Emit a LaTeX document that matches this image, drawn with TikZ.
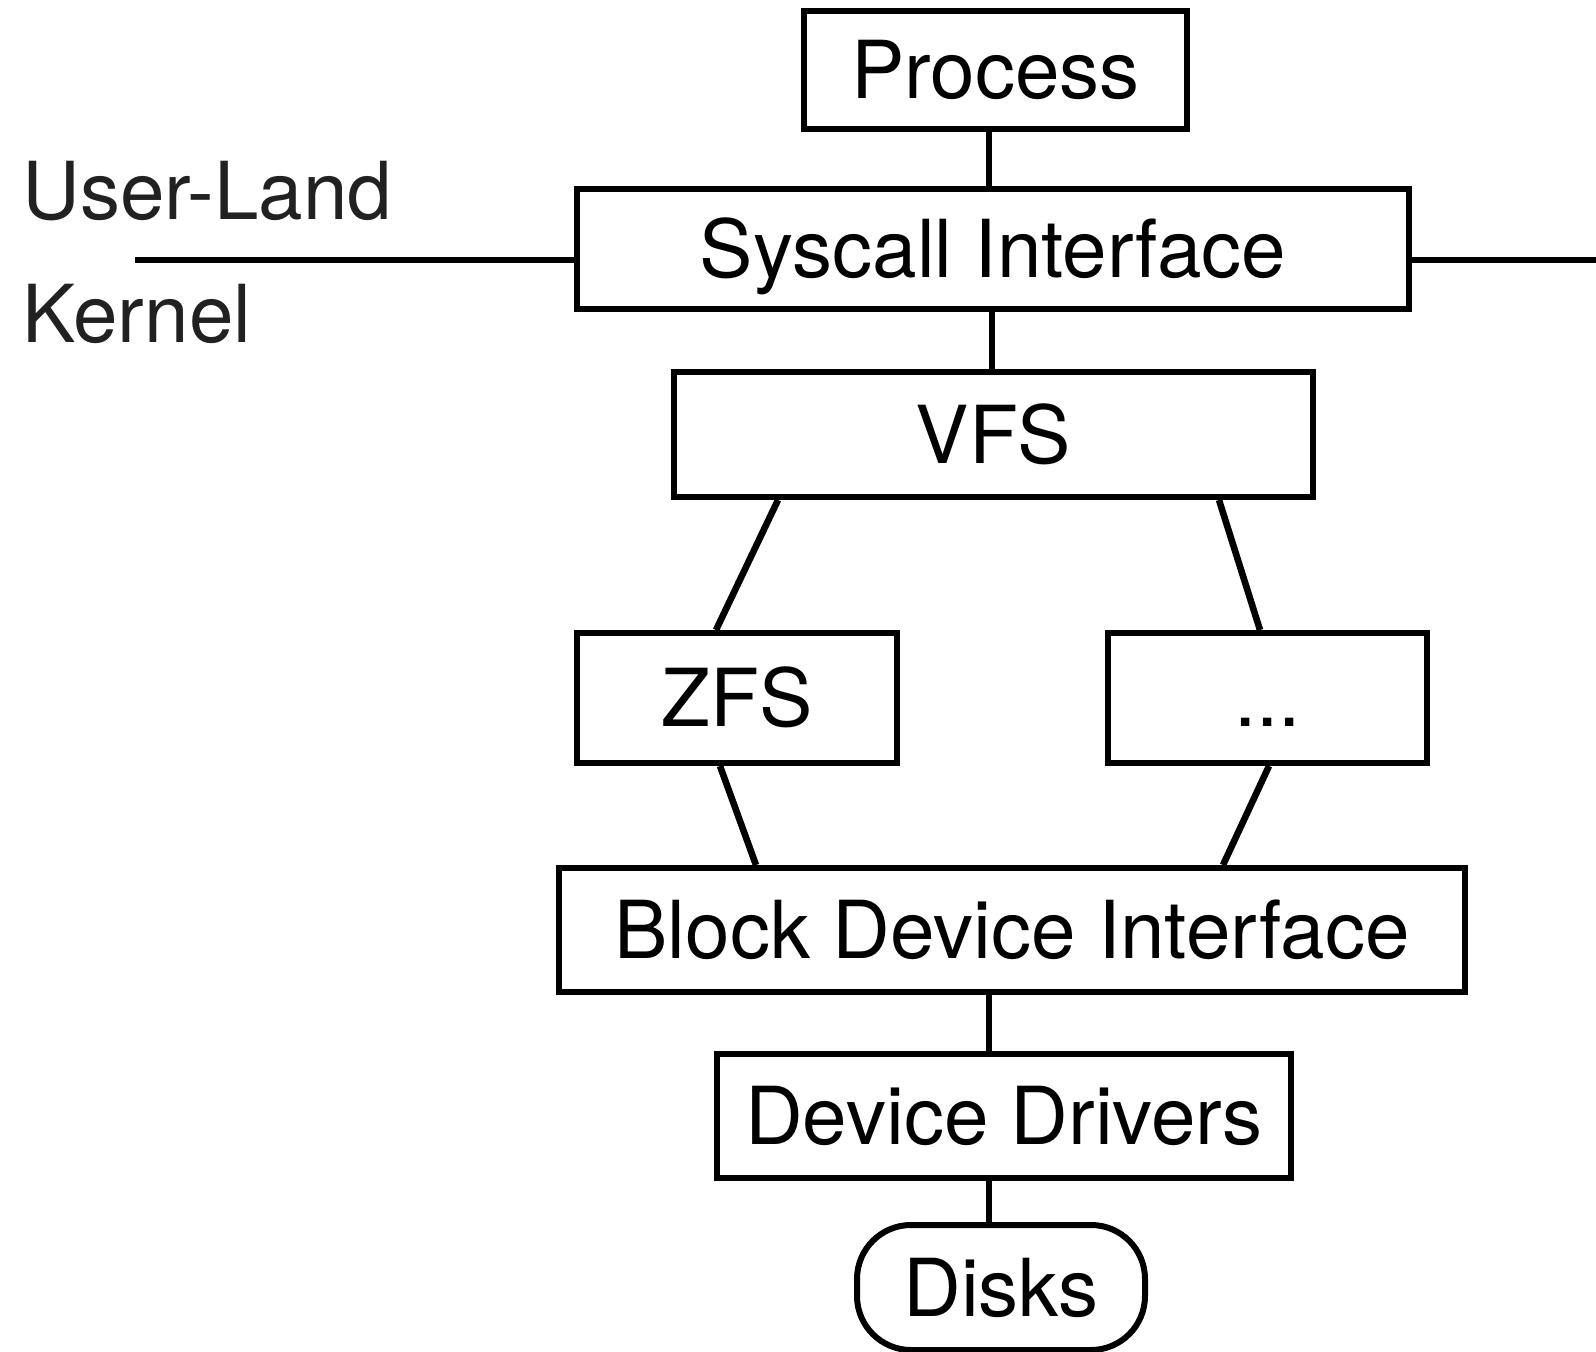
\documentclass[tikz,border=0pt]{standalone}
\usepackage{fontspec}
\setmainfont{TeX Gyre Heros}
\begin{document}
\begin{tikzpicture}[x=0.5pt,y=-0.5pt,
  layer/.style={draw, line width=3pt, inner sep=0pt, font=\fontsize{40}{48}\selectfont,
    text height=28.8pt, text depth=0pt},
  link/.style={line width=3.3pt},
  side/.style={anchor=base west, inner sep=0pt, text=black!87, font=\fontsize{40}{48}\selectfont}]
\useasboundingbox (0,0) rectangle (1596,1352);

% layered stack
\node[layer, minimum width=191.5pt, minimum height=59pt] (proc) at (995.5,70) {Process};
\node[layer, minimum width=416pt, minimum height=60pt] (sys) at (993,249) {Syscall Interface};
\node[layer, minimum width=319.5pt, minimum height=62.5pt] (vfs) at (993.5,434.5) {VFS};
\node[layer, minimum width=160pt, minimum height=65pt] (zfs) at (737,698) {ZFS};
\node[layer, minimum width=159.5pt, minimum height=65pt] (other) at (1267.5,698) {...};
\node[layer, minimum width=453pt, minimum height=62pt] (bdi) at (1012,930) {Block Device Interface};
\node[layer, minimum width=287pt, minimum height=62pt] (drv) at (1004,1116) {Device Drivers};
\node[layer, rounded corners=27pt, minimum width=144pt, minimum height=62.5pt] (disks) at (1001,1287.5) {Disks};

% user/kernel boundary
\coordinate (bl) at (135,260);
\coordinate (br) at (1596,260);
\draw[link] (bl) -- (bl -| sys.west);
\draw[link] (sys.east |- br) -- (br);
\node[side] (user) at (22,220) {User-Land};
\node[side] (kern) at (22,343) {Kernel};

% connectors between layers
\draw[link] ([xshift=-3.3pt]proc.south) -- ([xshift=-3.3pt]proc.south |- sys.north);
\draw[link] ([xshift=-0.5pt]sys.south) -- ([xshift=-0.5pt]sys.south |- vfs.north);
\draw[link] ([xshift=53.5pt]vfs.south west) -- ([xshift=71pt]zfs.north west);
\draw[link] ([xshift=-48.5pt]vfs.south east) -- ([xshift=77.5pt]other.north west);
\draw[link] ([xshift=73pt]zfs.south west) -- ([xshift=100pt]bdi.north west);
\draw[link] ([xshift=82pt]other.south west) -- ([xshift=333.5pt]bdi.north west);
\draw[link] ([xshift=-11.5pt]bdi.south) -- ([xshift=-11.5pt]bdi.south |- drv.north);
\draw[link] ([xshift=-7.5pt]drv.south) -- ([xshift=-7.5pt]drv.south |- disks.north);
\end{tikzpicture}
\end{document}
